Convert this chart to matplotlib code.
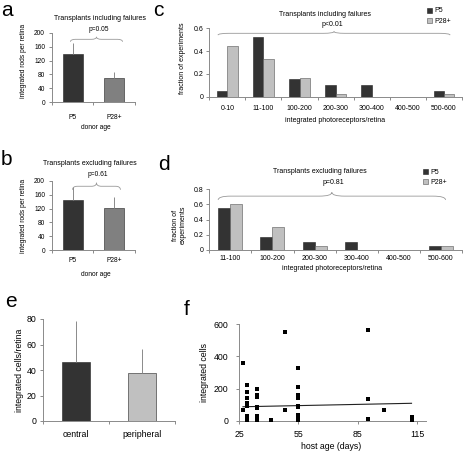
import numpy as np
import matplotlib.pyplot as plt
from matplotlib.path import Path
from matplotlib.patches import PathPatch
from matplotlib.ticker import FormatStrFormatter

plt.rcParams['font.family'] = ['Liberation Sans', 'DejaVu Sans']

# Datos de los paneles a y b
edad_donante = ['P5', 'P28+']
incl_media = [139, 69]
incl_error = [32, 17]
excl_media = [145, 121]
excl_error = [36, 31]

# Datos de los paneles c y d
rangos_c = ['0-10', '11-100', '100-200', '200-300', '300-400', '400-500', '500-600']
frac_c_p5 = [0.053, 0.526, 0.158, 0.105, 0.105, 0, 0.053]
frac_c_p28 = [0.444, 0.333, 0.167, 0.028, 0, 0, 0.028]
rangos_d = ['11-100', '100-200', '200-300', '300-400', '400-500', '500-600']
frac_d_p5 = [0.556, 0.167, 0.111, 0.111, 0, 0.056]
frac_d_p28 = [0.6, 0.3, 0.05, 0, 0, 0.05]

# Datos del panel e
posicion = ['central', 'peripheral']
celulas_media = [46.5, 38]
celulas_error = [32, 18.5]

# Datos del panel f (los fallos en 0 quedan superpuestos)
edad_huesped = [27, 27,
                29, 29, 29, 29, 29, 29, 29, 29, 29, 29, 29, 29,
                34, 34, 34, 34, 34, 34, 34, 34, 34, 34, 34,
                41,
                48, 48,
                55, 55, 55, 55, 55, 55, 55, 55, 55, 55, 55, 55, 55,
                90, 90, 90,
                98,
                112, 112, 112]
celulas_int = [360, 65,
               225, 180, 140, 110, 95, 30, 15, 5, 0, 0, 0, 0,
               195, 160, 150, 85, 80, 30, 15, 3, 0, 0, 0,
               5,
               550, 70,
               330, 210, 160, 140, 95, 85, 40, 25, 15, 0, 0, 0, 0,
               565, 135, 10,
               70,
               25, 15, 5]

OSCURO = '#333333'
MEDIO = '#808080'
CLARO = '#c0c0c0'
GRIS = '#8a8a8a'

W, H = 464, 454
fig = plt.figure(figsize=(W / 100, H / 100), dpi=100)


def ejes(x0, x1, y0, y1):
    # caja en píxeles: izquierda, derecha, arriba, abajo
    return fig.add_axes([x0 / W, 1 - y1 / H, (x1 - x0) / W, (y1 - y0) / H])


def texto(x, y, s, size, **kw):
    kw.setdefault('ha', 'center')
    kw.setdefault('va', 'center')
    fig.text(x / W, 1 - y / H, s, fontsize=size, **kw)


def estilo(ax, size, ypad):
    for lado in ['top', 'right']:
        ax.spines[lado].set_visible(False)
    for lado in ['left', 'bottom']:
        ax.spines[lado].set_color(GRIS)
        ax.spines[lado].set_linewidth(0.7)
    ax.tick_params(colors=GRIS, labelcolor='black', labelsize=size,
                   width=0.7, length=2, direction='out')
    ax.tick_params(axis='y', pad=ypad)


def categorias(ax, etiquetas, pad):
    n = len(etiquetas)
    ax.set_xlim(-0.5, n - 0.5)
    ax.set_xticks(range(n))
    ax.set_xticklabels(etiquetas)
    ax.set_xticks(np.arange(n + 1) - 0.5, minor=True)
    ax.tick_params(axis='x', which='major', length=0, pad=pad)
    ax.tick_params(axis='x', which='minor', length=2.5, color=GRIS, width=0.7)


def llave(ax, x0, x1, y, h, d):
    xm = (x0 + x1) / 2
    verts = [(x0, y - h), (x0, y), (x0 + d, y),
             (xm - d, y), (xm, y), (xm, y + h),
             (xm, y), (xm + d, y),
             (x1 - d, y), (x1, y), (x1, y - h)]
    codes = [Path.MOVETO, Path.CURVE3, Path.CURVE3,
             Path.LINETO, Path.CURVE3, Path.CURVE3,
             Path.CURVE3, Path.CURVE3,
             Path.LINETO, Path.CURVE3, Path.CURVE3]
    ax.add_patch(PathPatch(Path(verts, codes), fill=False, edgecolor='#999999',
                           lw=0.6, clip_on=False))


def barras_media(ax, medias, errores, colores):
    x = np.arange(len(medias))
    ax.bar(x, medias, width=0.48, color=colores, edgecolor='#222222', linewidth=0.4, zorder=2)
    ax.errorbar(x, medias, yerr=[np.zeros(len(errores)), errores], fmt='none',
                ecolor=GRIS, elinewidth=0.7, capsize=0, zorder=3)


# ---- a ----
ax_a = ejes(51.7, 135, 32.7, 102.3)
barras_media(ax_a, incl_media, incl_error, [OSCURO, MEDIO])
ax_a.set_ylim(0, 200)
ax_a.set_yticks(range(0, 201, 40))
estilo(ax_a, 4.8, 2.8)
categorias(ax_a, edad_donante, 8.5)
llave(ax_a, -0.05, 1.2, 181, 7, 0.12)
texto(100.5, 19, 'Transplants including failures', 5)
texto(99, 29.3, 'p=0.05', 4.8)
texto(24, 61, 'integrated rods per retina', 4.8, rotation=90)
texto(96, 127.3, 'donor age', 4.8)
texto(1, 16, 'a', 15, ha='left', va='baseline')

# ---- b ----
ax_b = ejes(51.7, 135, 180.7, 250.3)
barras_media(ax_b, excl_media, excl_error, [OSCURO, MEDIO])
ax_b.set_ylim(0, 200)
ax_b.set_yticks(range(0, 201, 40))
estilo(ax_b, 4.8, 2.8)
categorias(ax_b, edad_donante, 4.9)
llave(ax_b, 0.0, 1.15, 184, 10, 0.12)
texto(90, 164, 'Transplants excluding failures', 5)
texto(98, 175, 'p=0.61', 4.8)
texto(24, 216, 'integrated rods per retina', 4.8, rotation=90)
texto(96, 275, 'donor age', 4.8)
texto(1, 165, 'b', 15, ha='left', va='baseline')

# ---- c ----
ax_c = ejes(209.3, 462, 28.3, 96.7)
xc = np.arange(len(rangos_c))
b1 = ax_c.bar(xc - 0.142, frac_c_p5, width=0.285, color=OSCURO, edgecolor='#222222', linewidth=0.4, label='P5')
b2 = ax_c.bar(xc + 0.142, frac_c_p28, width=0.285, color=CLARO, edgecolor='#555555', linewidth=0.4, label='P28+')
ax_c.set_ylim(0, 0.6)
ax_c.set_yticks([0, 0.2, 0.4, 0.6])
ax_c.yaxis.set_major_formatter(FormatStrFormatter('%g'))
estilo(ax_c, 5, 2.3)
categorias(ax_c, rangos_c, 5.7)
llave(ax_c, -0.26, 6.17, 0.556, 0.016, 0.3)
texto(325, 14, 'Transplants including failures', 5)
texto(332, 24.5, 'p<0.01', 5)
texto(183, 58, 'fraction of experiments', 5, rotation=90)
texto(335, 121, 'integrated photoreceptors/retina', 5)
fig.legend(handles=[b1, b2], loc='upper left', bbox_to_anchor=(427 / W, 1 - 7.5 / H),
           frameon=False, fontsize=5, handlelength=0.7, handleheight=0.7,
           handletextpad=0.3, labelspacing=0.45, borderpad=0, borderaxespad=0)
texto(153, 16, 'c', 15, ha='left', va='baseline')

# ---- d ----
ax_d = ejes(209.3, 462, 189.3, 250)
xd = np.arange(len(rangos_d))
d1 = ax_d.bar(xd - 0.142, frac_d_p5, width=0.285, color=OSCURO, edgecolor='#222222', linewidth=0.4, label='P5')
d2 = ax_d.bar(xd + 0.142, frac_d_p28, width=0.285, color=CLARO, edgecolor='#555555', linewidth=0.4, label='P28+')
ax_d.set_ylim(0, 0.8)
ax_d.set_yticks([0, 0.2, 0.4, 0.6, 0.8])
ax_d.yaxis.set_major_formatter(FormatStrFormatter('%g'))
estilo(ax_d, 5, 2.3)
categorias(ax_d, rangos_d, 3.8)
llave(ax_d, -0.29, 5.11, 0.71, 0.05, 0.3)
texto(320, 171.7, 'Transplants excluding failures', 5)
texto(333, 183, 'p=0.81', 5)
texto(179.5, 225, 'fraction of\nexperiments', 5, rotation=90, linespacing=1.0)
texto(332, 268.3, 'integrated photoreceptors/retina', 5)
fig.legend(handles=[d1, d2], loc='upper left', bbox_to_anchor=(423 / W, 1 - 169 / H),
           frameon=False, fontsize=5, handlelength=0.7, handleheight=0.7,
           handletextpad=0.3, labelspacing=0.45, borderpad=0, borderaxespad=0)
texto(158, 170, 'd', 15, ha='left', va='baseline')

# ---- e ----
ax_e = ejes(43, 175, 319, 421)
xe = np.arange(len(posicion))
ax_e.bar(xe, celulas_media, width=0.41, color=[OSCURO, CLARO], edgecolor='#222222', linewidth=0.4, zorder=2)
ax_e.errorbar(xe, celulas_media, yerr=[np.zeros(2), celulas_error], fmt='none',
              ecolor=GRIS, elinewidth=0.7, capsize=0, zorder=3)
ax_e.set_ylim(0, 80)
ax_e.set_yticks(range(0, 81, 20))
estilo(ax_e, 6.3, 2.5)
categorias(ax_e, posicion, 6.7)
texto(20, 370, 'integrated cells/retina', 6.3, rotation=90)
texto(5, 307, 'e', 15, ha='left', va='baseline')

# ---- f ----
ax_f = ejes(239, 426, 324, 421)
ax_f.scatter(edad_huesped, celulas_int, marker='s', s=5, color='black', linewidths=0, zorder=3)
pend, orig = np.polyfit(edad_huesped, celulas_int, 1)
xr = np.array([min(edad_huesped), max(edad_huesped)])
ax_f.plot(xr, pend * xr + orig, color='#222222', lw=0.8, zorder=2)
ax_f.set_xlim(25, 119.3)
ax_f.set_ylim(0, 600)
ax_f.set_xticks([25, 55, 85, 115])
ax_f.set_yticks([0, 200, 400, 600])
estilo(ax_f, 6.3, 5.7)
ax_f.tick_params(axis='x', pad=4.2, length=2.5)
texto(205, 372, 'integrated cells', 6.3, rotation=90)
texto(331, 446.7, 'host age (days)', 6.3)
texto(184, 315, 'f', 15, ha='left', va='baseline')

fig.savefig('out.png', dpi=100)
